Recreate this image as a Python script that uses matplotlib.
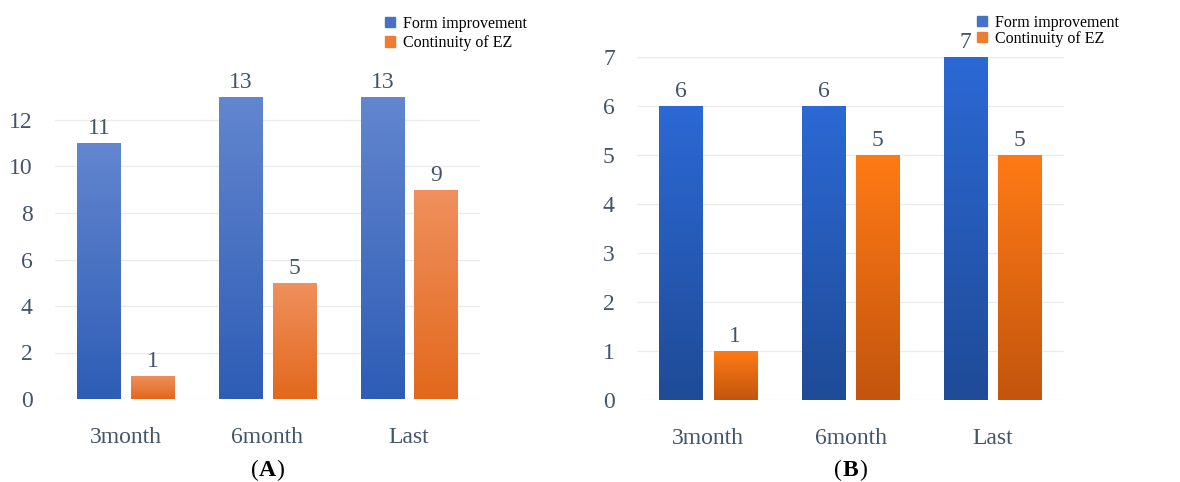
import matplotlib.pyplot as plt
import numpy as np
from matplotlib.colors import LinearSegmentedColormap
from matplotlib.patches import Patch

plt.rcParams["font.family"] = ["Liberation Serif", "DejaVu Serif"]

CATEGORIES = ["3month", "6month", "Last"]
SERIES = ["Form improvement", "Continuity of EZ"]
FORM_A = [11, 13, 13]
CONT_A = [1, 5, 9]
FORM_B = [6, 6, 7]
CONT_B = [1, 5, 5]

TEXT = "#44546A"
GRID = "#EBEBEB"

# (top colour, bottom colour) for the per-bar gradients
GRAD_A = {"blue": ("#6386CF", "#2E5DB6"), "orange": ("#F0905E", "#E2681C")}
GRAD_B = {"blue": ("#2C69D5", "#1F4B97"), "orange": ("#FF7A15", "#C3550E")}
LEGEND_COLORS = ("#4472C4", "#ED7D31")


def gradient_bars(ax, x, values, width, top, bottom):
    cmap = LinearSegmentedColormap.from_list("g", [bottom, top])
    bars = ax.bar(x, values, width, color=top, edgecolor="none", zorder=2)
    grad = np.linspace(0, 1, 256).reshape(-1, 1)
    for b in bars:
        x0, y0 = b.get_x(), b.get_y()
        im = ax.imshow(grad, extent=[x0, x0 + b.get_width(), y0, y0 + b.get_height()],
                       origin="lower", aspect="auto", cmap=cmap, zorder=3)
        im.set_clip_path(b)
    return bars


def panel(fig, rect, form, cont, colors, ymax, ticks, letter, legend_pos, spacing):
    ax = fig.add_axes(rect)
    x = np.arange(len(CATEGORIES))
    w = 0.305
    off = 0.19
    gradient_bars(ax, x - off, form, w, *colors["blue"])
    gradient_bars(ax, x + off, cont, w, *colors["orange"])
    for xs, vals in [(x - off, form), (x + off, cont)]:
        for xi, v in zip(xs, vals):
            ax.annotate(str(v), (xi, v), xytext=(0, 3), textcoords="offset points",
                        ha="center", va="bottom", fontsize=17, color=TEXT,
                        annotation_clip=False)

    ax.set_xlim(-0.5, len(CATEGORIES) - 0.5)
    ax.set_ylim(0, ymax)
    ax.set_yticks(ticks)
    ax.set_xticks(x)
    ax.set_xticklabels(CATEGORIES)
    for t in ticks:
        ax.axhline(t, color=GRID, lw=1, zorder=1)
    for s in ax.spines.values():
        s.set_visible(False)
    ax.tick_params(axis="y", length=0, pad=16, labelsize=17, labelcolor=TEXT)
    ax.tick_params(axis="x", length=0, pad=20, labelsize=17, labelcolor=TEXT)

    pos = ax.get_position()
    cx = (pos.x0 + pos.x1) / 2
    fig.text(cx, 12 / 482, letter, ha="center", va="center", fontsize=17,
             fontweight="bold", color="black")
    fig.text(cx - 0.0075, 12 / 482, "(", ha="right", va="center", fontsize=17,
             color="black")
    fig.text(cx + 0.0075, 12 / 482, ")", ha="left", va="center", fontsize=17,
             color="black")

    handles = [Patch(color=LEGEND_COLORS[0]), Patch(color=LEGEND_COLORS[1])]
    fig.legend(handles, SERIES, loc="upper left", bbox_to_anchor=legend_pos,
               frameon=False, fontsize=11.5, handlelength=0.65, handleheight=0.6,
               handletextpad=0.45, labelspacing=spacing, borderpad=0,
               borderaxespad=0)
    return ax


fig = plt.figure(figsize=(11.8, 4.82), dpi=100)
W, H = 1180, 482

panel(fig, [55 / W, 83 / H, 425 / W, 325.5 / H], FORM_A, CONT_A, GRAD_A,
      14, list(range(0, 13, 2)), "A", (385 / W, 1 - 16 / H), 0.2)
panel(fig, [637 / W, 82 / H, 427 / W, 343 / H], FORM_B, CONT_B, GRAD_B,
      7, list(range(0, 8)), "B", (977 / W, 1 - 15 / H), 0.0)

fig.savefig("out.png", dpi=100)
